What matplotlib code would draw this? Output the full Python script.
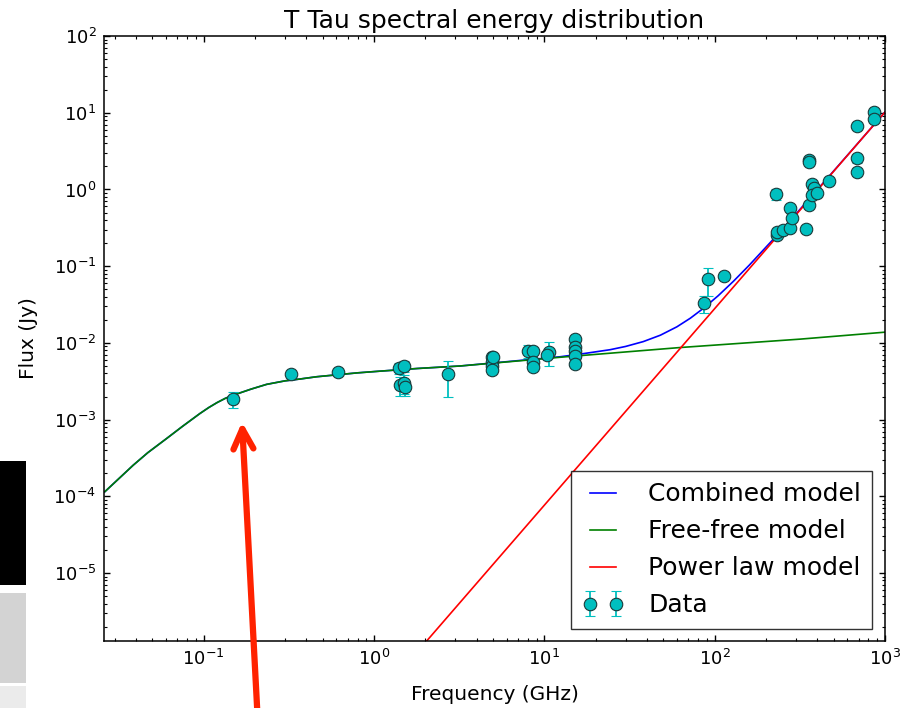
import numpy as np
import matplotlib
matplotlib.use('Agg')
import matplotlib.pyplot as plt
from matplotlib.patches import Rectangle, FancyArrowPatch

# model curves (GHz, Jy)
nu_ff = [0.0263, 0.0386, 0.047, 0.0607, 0.075, 0.095, 0.107, 0.12, 0.134, 0.149,
         0.19, 0.234, 0.3, 0.367, 0.46, 0.577, 0.8, 1.08, 1.8, 3.2, 12.4, 62.6,
         318.0, 1000.0]
s_ff = [1.15e-4, 2.55e-4, 3.71e-4, 5.69e-4, 8.15e-4, 1.2e-3, 1.435e-3, 1.67e-3,
        1.895e-3, 2.08e-3, 2.5e-3, 2.88e-3, 3.2e-3, 3.38e-3, 3.62e-3, 3.8e-3,
        4.07e-3, 4.28e-3, 4.64e-3, 5.0e-3, 6.5e-3, 8.7e-3, 0.0112, 0.0138]

nu_comb = [0.0263, 0.0386, 0.047, 0.0607, 0.075, 0.095, 0.107, 0.12, 0.134, 0.149,
           0.19, 0.234, 0.3, 0.367, 0.46, 0.577, 0.8, 1.08, 1.8, 3.2, 12.4, 17.0,
           24.3, 30.0, 38.1, 48.0, 60.0, 72.0, 86.0, 105.0, 129.0, 160.0, 221.0,
           300.0, 400.0, 600.0, 1000.0]
s_comb = [1.15e-4, 2.55e-4, 3.71e-4, 5.69e-4, 8.15e-4, 1.2e-3, 1.435e-3, 1.67e-3,
          1.895e-3, 2.08e-3, 2.5e-3, 2.88e-3, 3.2e-3, 3.38e-3, 3.62e-3, 3.8e-3,
          4.07e-3, 4.28e-3, 4.64e-3, 5.0e-3, 6.6e-3, 7.25e-3, 8.15e-3, 8.99e-3,
          0.0104, 0.0126, 0.0162, 0.021, 0.0283, 0.0413, 0.0637, 0.1036, 0.2246,
          0.479, 0.99, 2.77, 10.2]

nu_pl = [1.0, 1000.0]
s_pl = [2.1e-7, 10.2]

# measurements
freq = [0.149, 0.326, 0.612, 1.41, 1.49, 1.42, 1.50, 1.52, 2.73,
        4.9, 4.9, 4.9, 4.9, 5.0, 8.06, 8.55, 8.55, 8.55, 10.7, 10.4,
        15.1, 15.1, 15.1, 15.1, 15.1,
        91.9, 86.7, 114.0, 229.5, 231.0, 231.0, 253.0, 277.0, 277.0, 286.0,
        343.0, 358.0, 358.0, 358.0, 375.0, 385.0, 371.0, 398.0, 470.0,
        683.0, 683.0, 683.0, 866.0, 866.0]
flux = [1.85e-3, 3.92e-3, 4.2e-3, 4.73e-3, 4.98e-3, 2.82e-3, 2.97e-3, 2.63e-3, 3.92e-3,
        6.47e-3, 5.67e-3, 4.99e-3, 4.42e-3, 6.6e-3, 7.89e-3, 7.89e-3, 5.67e-3, 4.89e-3,
        7.66e-3, 7.0e-3,
        0.0112, 8.9e-3, 7.8e-3, 6.7e-3, 5.3e-3,
        0.0673, 0.0327, 0.075, 0.87, 0.255, 0.28, 0.296, 0.317, 0.577, 0.42,
        0.305, 0.627, 2.42, 2.25, 1.17, 1.06, 0.845, 0.906, 1.29,
        6.76, 2.54, 1.67, 10.3, 8.2]
flux_err = [0.42e-3, 0.2e-3, 0.2e-3, 0.8e-3, 0.8e-3, 0.8e-3, 0.8e-3, 0.6e-3, 1.95e-3,
            0.3e-3, 0.3e-3, 0.3e-3, 0.3e-3, 0.3e-3, 1.5e-3, 0.5e-3, 0.4e-3, 0.4e-3,
            2.7e-3, 0.5e-3,
            0.5e-3, 0.5e-3, 0.4e-3, 0.4e-3, 0.3e-3,
            0.027, 0.008, 0.004, 0.13, 0.02, 0.02, 0.02, 0.02, 0.04, 0.03,
            0.02, 0.04, 0.1, 0.1, 0.05, 0.05, 0.05, 0.05, 0.1,
            0.3, 0.3, 0.15, 0.4, 0.4]

plt.rcParams['font.family'] = 'DejaVu Sans'
plt.rcParams['mathtext.fontset'] = 'dejavusans'

fig = plt.figure(figsize=(9.15, 7.08), dpi=100)
ax = fig.add_axes([0.1137, 0.0946, 0.8535, 0.8545])

ax.plot(nu_comb, s_comb, color='b', lw=1.2, label='Combined model')
ax.plot(nu_ff, s_ff, color='g', lw=1.2, label='Free-free model')
ax.plot(nu_pl, s_pl, color='r', lw=1.2, label='Power law model')
ax.errorbar(freq, flux, yerr=flux_err, fmt='o', color='c', ecolor='c',
            mec='#1a3a3a', mew=0.8, ms=9, elinewidth=1.3, capsize=3.5,
            label='Data')

ax.set_xscale('log')
ax.set_yscale('log')
ax.set_xlim(0.026, 1000)
ax.set_ylim(1.3e-6, 100)

ax.tick_params(which='both', direction='in', top=True, right=True, labelsize=13)
ax.tick_params(which='major', length=4.5, width=1, pad=5.5)
ax.tick_params(which='minor', length=2.5, width=0.8)
for sp in ax.spines.values():
    sp.set_linewidth(1.1)

ax.set_xlabel('Frequency (GHz)', fontsize=14.5, labelpad=12)
ax.set_ylabel('Flux (Jy)', fontsize=14.5, labelpad=11)
ax.set_title('T Tau spectral energy distribution', fontsize=18)

leg = ax.legend(loc='lower right', numpoints=2, fontsize=18, fancybox=False,
                handlelength=1.65, handletextpad=1.0, labelspacing=0.52,
                borderpad=0.45)
leg.get_frame().set_edgecolor('k')
leg.get_frame().set_linewidth(1.0)

# red arrow pointing at the lowest-frequency point
arrow = FancyArrowPatch((257.5 / 915, -0.01), (242 / 915, 286 / 708),
                        transform=fig.transFigure, arrowstyle='->',
                        color='#ff2200', lw=4.5, mutation_scale=36,
                        shrinkA=0, shrinkB=0)
fig.add_artist(arrow)

# bars at the left edge of the screenshot
fig.add_artist(Rectangle((0, 0.1737), 0.0284, 0.1751, transform=fig.transFigure,
                         color='black', lw=0))
fig.add_artist(Rectangle((0, 0.0353), 0.0284, 0.1271, transform=fig.transFigure,
                         color='#d3d3d3', lw=0))
fig.add_artist(Rectangle((0, 0.0), 0.0284, 0.031, transform=fig.transFigure,
                         color='#ebebeb', lw=0))

fig.savefig('out.png', dpi=100)
